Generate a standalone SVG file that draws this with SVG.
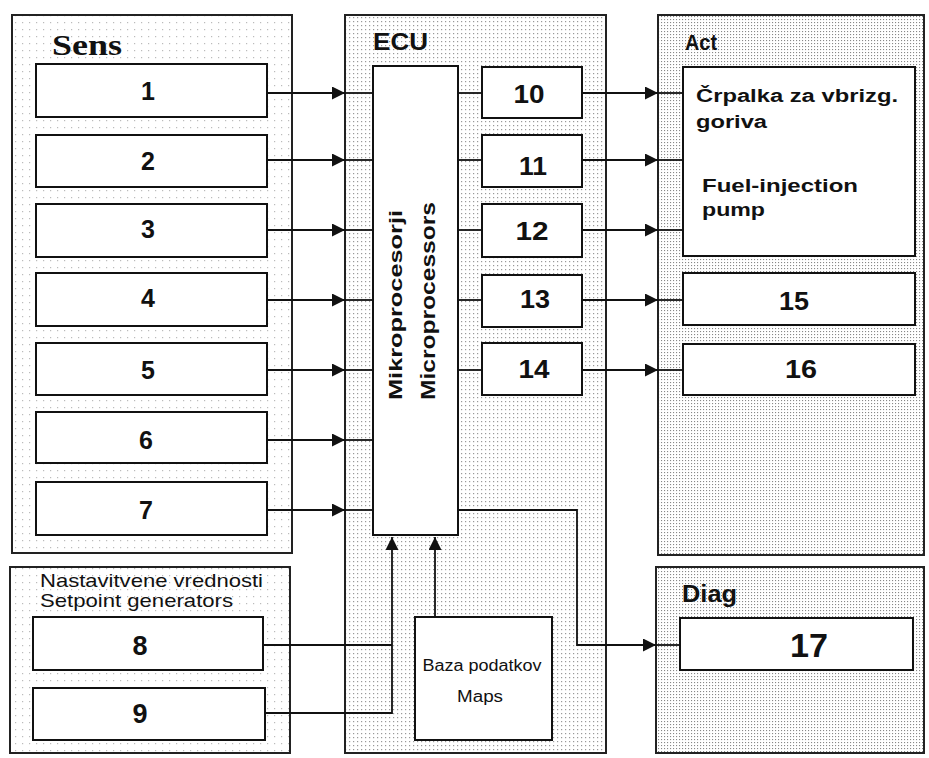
<svg xmlns="http://www.w3.org/2000/svg" width="929" height="758" viewBox="0 0 929 758">
<style>
.panel{stroke:#222;stroke-width:2}
.box{fill:#fff;stroke:#111;stroke-width:2}
.conn{stroke:#111;stroke-width:1.8;fill:none}
.num{font-family:"Liberation Sans",Arial,sans-serif;font-weight:bold;fill:#111;text-anchor:middle}
.lbl{font-family:"Liberation Sans",Arial,sans-serif;fill:#111}
</style>
<defs>
<pattern id="dotsLight" width="7" height="7" patternUnits="userSpaceOnUse">
<rect width="7" height="7" fill="#fff"/>
<rect x="1" y="1" width="1.2" height="1.2" fill="#bbb"/>
</pattern>
<pattern id="dotsMid" width="4" height="4" patternUnits="userSpaceOnUse">
<rect width="4" height="4" fill="#fff"/>
<rect x="1" y="1" width="1.2" height="1.2" fill="#999"/>
</pattern>
<pattern id="dotsDense" width="3" height="3" patternUnits="userSpaceOnUse">
<rect width="3" height="3" fill="#fff"/>
<rect x="1" y="1" width="1.1" height="1.1" fill="#888"/>
</pattern>
<marker id="arr" markerUnits="userSpaceOnUse" markerWidth="14" markerHeight="13" refX="13" refY="6.5" orient="auto">
<path d="M0,0 L13,6.5 L0,13 z" fill="#111"/>
</marker>
</defs>
<rect width="929" height="758" fill="#fff"/>

<g id="panel-sens">
<rect class="panel" x="12" y="15" width="280" height="538" fill="url(#dotsLight)"/>
<text x="52" y="55" font-family="'Liberation Serif','Times New Roman',serif" font-weight="bold" font-size="30" textLength="70" lengthAdjust="spacingAndGlyphs" fill="#111">Sens</text>
</g>
<g id="panel-setpoint">
<rect class="panel" x="10" y="567" width="280" height="186" fill="url(#dotsLight)"/>
<text class="lbl" x="40" y="587" font-size="19" textLength="223" lengthAdjust="spacingAndGlyphs">Nastavitvene vrednosti</text>
<text class="lbl" x="40" y="607" font-size="19" textLength="193" lengthAdjust="spacingAndGlyphs">Setpoint generators</text>
</g>
<g id="panel-ecu">
<rect class="panel" x="345" y="15" width="261" height="738" fill="url(#dotsMid)"/>
<text class="lbl" x="373" y="50" font-size="24" font-weight="bold" textLength="55" lengthAdjust="spacingAndGlyphs">ECU</text>
</g>
<g id="panel-act">
<rect class="panel" x="658" y="15" width="266" height="540" fill="url(#dotsDense)"/>
<text class="lbl" x="685" y="50" font-size="22" font-weight="bold" textLength="32" lengthAdjust="spacingAndGlyphs">Act</text>
</g>
<g id="panel-diag">
<rect class="panel" x="656" y="567" width="268" height="186" fill="url(#dotsDense)"/>
<text class="lbl" x="682" y="602" font-size="23" font-weight="bold" textLength="55" lengthAdjust="spacingAndGlyphs">Diag</text>
</g>

<g id="n1"><rect class="box" x="36" y="64" width="231" height="53"/><text class="num" x="148" y="100" font-size="25">1</text></g>
<g id="n2"><rect class="box" x="36" y="135" width="231" height="52"/><text class="num" x="148" y="170" font-size="25">2</text></g>
<g id="n3"><rect class="box" x="36" y="204" width="231" height="53"/><text class="num" x="148" y="238" font-size="25">3</text></g>
<g id="n4"><rect class="box" x="36" y="273" width="231" height="53"/><text class="num" x="148" y="307" font-size="25">4</text></g>
<g id="n5"><rect class="box" x="36" y="343" width="231" height="52"/><text class="num" x="148" y="379" font-size="25">5</text></g>
<g id="n6"><rect class="box" x="36" y="412" width="231" height="51"/><text class="num" x="146" y="449" font-size="25">6</text></g>
<g id="n7"><rect class="box" x="36" y="482" width="231" height="53"/><text class="num" x="146" y="519" font-size="25">7</text></g>
<g id="n8"><rect class="box" x="33" y="617" width="230" height="53"/><text class="num" x="140" y="655" font-size="27">8</text></g>
<g id="n9"><rect class="box" x="33" y="688" width="232" height="52"/><text class="num" x="140" y="723" font-size="27">9</text></g>

<g id="micro">
<rect class="box" x="373" y="66" width="85" height="469"/>
<text class="num" transform="translate(402,305) rotate(-90)" font-size="19" textLength="190" lengthAdjust="spacingAndGlyphs">Mikroprocesorji</text>
<text class="num" transform="translate(435,301) rotate(-90)" font-size="20" textLength="198" lengthAdjust="spacingAndGlyphs">Microprocessors</text>
</g>

<g id="n10"><rect class="box" x="482" y="67" width="100" height="51"/><text class="num" x="529" y="103" font-size="25" textLength="31" lengthAdjust="spacingAndGlyphs">10</text></g>
<g id="n11"><rect class="box" x="482" y="135" width="100" height="52"/><text class="num" x="533" y="175" font-size="25" textLength="28" lengthAdjust="spacingAndGlyphs">11</text></g>
<g id="n12"><rect class="box" x="482" y="204" width="100" height="53"/><text class="num" x="532" y="240" font-size="25" textLength="33" lengthAdjust="spacingAndGlyphs">12</text></g>
<g id="n13"><rect class="box" x="482" y="275" width="100" height="52"/><text class="num" x="535" y="308" font-size="25" textLength="30" lengthAdjust="spacingAndGlyphs">13</text></g>
<g id="n14"><rect class="box" x="482" y="343" width="100" height="52"/><text class="num" x="534" y="378" font-size="25" textLength="31" lengthAdjust="spacingAndGlyphs">14</text></g>

<g id="maps">
<rect class="box" x="415" y="617" width="137" height="123"/>
<text class="lbl" x="482" y="671" font-size="16" text-anchor="middle" fill="#444" textLength="119" lengthAdjust="spacingAndGlyphs">Baza podatkov</text>
<text class="lbl" x="480" y="702" font-size="16" text-anchor="middle" fill="#444" textLength="46" lengthAdjust="spacingAndGlyphs">Maps</text>
</g>

<g id="pump">
<rect class="box" x="683" y="67" width="232" height="189"/>
<text class="lbl" x="696" y="102" font-size="18" font-weight="bold" textLength="202" lengthAdjust="spacingAndGlyphs">Črpalka za vbrizg.</text>
<text class="lbl" x="696" y="128" font-size="18" font-weight="bold" textLength="71" lengthAdjust="spacingAndGlyphs">goriva</text>
<text class="lbl" x="702" y="192" font-size="18" font-weight="bold" textLength="156" lengthAdjust="spacingAndGlyphs">Fuel-injection</text>
<text class="lbl" x="702" y="216" font-size="18" font-weight="bold" textLength="63" lengthAdjust="spacingAndGlyphs">pump</text>
</g>
<g id="n15"><rect class="box" x="683" y="273" width="232" height="52"/><text class="num" x="794" y="310" font-size="25" textLength="30" lengthAdjust="spacingAndGlyphs">15</text></g>
<g id="n16"><rect class="box" x="683" y="344" width="232" height="51"/><text class="num" x="801" y="378" font-size="25" textLength="32" lengthAdjust="spacingAndGlyphs">16</text></g>
<g id="n17"><rect class="box" x="680" y="618" width="233" height="52"/><text class="num" x="809" y="657" font-size="33" textLength="38" lengthAdjust="spacingAndGlyphs">17</text></g>

<g id="connectors">
<path class="conn" d="M267,93 H345" marker-end="url(#arr)"/><path class="conn" d="M345,93 H373"/>
<path class="conn" d="M267,160 H345" marker-end="url(#arr)"/><path class="conn" d="M345,160 H373"/>
<path class="conn" d="M267,230 H345" marker-end="url(#arr)"/><path class="conn" d="M345,230 H373"/>
<path class="conn" d="M267,300 H345" marker-end="url(#arr)"/><path class="conn" d="M345,300 H373"/>
<path class="conn" d="M267,370 H345" marker-end="url(#arr)"/><path class="conn" d="M345,370 H373"/>
<path class="conn" d="M267,440 H345" marker-end="url(#arr)"/><path class="conn" d="M345,440 H373"/>
<path class="conn" d="M267,510 H345" marker-end="url(#arr)"/><path class="conn" d="M345,510 H373"/>

<path class="conn" d="M458,93 H482"/>
<path class="conn" d="M458,160 H482"/>
<path class="conn" d="M458,230 H482"/>
<path class="conn" d="M458,300 H482"/>
<path class="conn" d="M458,370 H482"/>

<path class="conn" d="M582,93 H658" marker-end="url(#arr)"/><path class="conn" d="M658,93 H683"/>
<path class="conn" d="M582,160 H658" marker-end="url(#arr)"/><path class="conn" d="M658,160 H683"/>
<path class="conn" d="M582,230 H658" marker-end="url(#arr)"/><path class="conn" d="M658,230 H683"/>
<path class="conn" d="M582,300 H658" marker-end="url(#arr)"/><path class="conn" d="M658,300 H683"/>
<path class="conn" d="M582,370 H658" marker-end="url(#arr)"/><path class="conn" d="M658,370 H683"/>

<path class="conn" d="M458,510 H577 V645 H656" marker-end="url(#arr)"/><path class="conn" d="M656,645 H680"/>

<path class="conn" d="M263,645 H392"/>
<path class="conn" d="M265,713 H392 V537" marker-end="url(#arr)"/>
<path class="conn" d="M435,617 V537" marker-end="url(#arr)"/>
</g>
</svg>
